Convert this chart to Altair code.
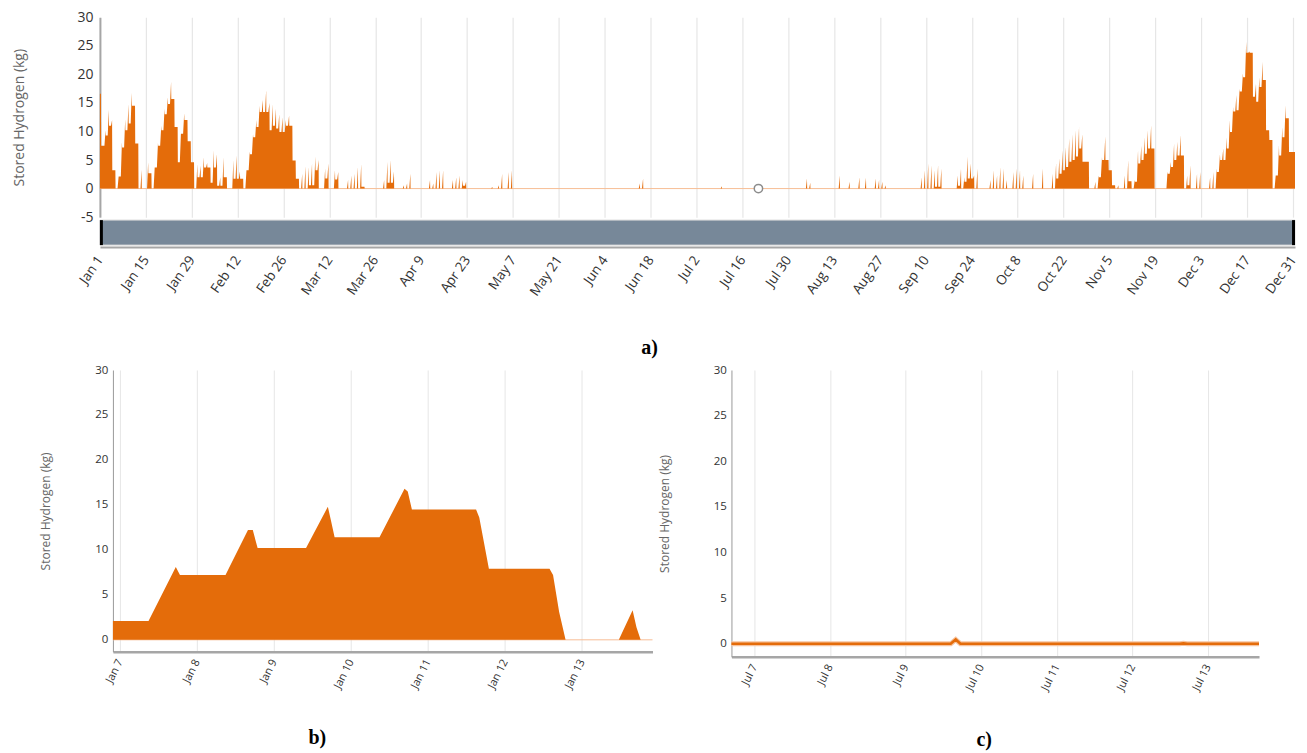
import json
import altair as alt
import pandas as pd

alt.data_transformers.disable_max_rows()

FONT = "Open Sans"
ORANGE = "#E46C0A"
ZERO_LINE = "#F7BE96"
GRID = "#E6E6E6"
AXIS_LINE = "#A6A6A6"
LABEL = "#333333"
TITLE = "#666666"

# ---------------- panel a) : one year, day 0 = Jan 1 ----------------
year_tick_days = [0, 14, 28, 42, 56, 70, 84, 98, 112, 126, 140, 154, 168, 182,
                  196, 210, 224, 238, 252, 266, 280, 294, 308, 322, 336, 350, 364]
year_tick_labels = ["Jan 1", "Jan 15", "Jan 29", "Feb 12", "Feb 26", "Mar 12", "Mar 26",
                    "Apr 9", "Apr 23", "May 7", "May 21", "Jun 4", "Jun 18", "Jul 2",
                    "Jul 16", "Jul 30", "Aug 13", "Aug 27", "Sep 10", "Sep 24", "Oct 8",
                    "Oct 22", "Nov 5", "Nov 19", "Dec 3", "Dec 17", "Dec 31"]
year_kg_ticks = [-5, 0, 5, 10, 15, 20, 25, 30]
year_end_day = 364.6
jan1_midnight_kg = 16.6
hover_day = 200.9

# afternoon peak of each day (kg), one row = two weeks
daily_peak_kg = [
    7.5, 10.2, 13.8, 12.0, 3.2, 2.1, 8.1, 12.2, 14.8, 16.8, 14.5, 7.9, 3.3, 0,
    4.6, 2.7, 3.7, 8.0, 11.0, 14.0, 16.0, 18.7, 15.7, 10.8, 9.6, 13.2, 12.0, 8.3,
    4.6, 4.3, 4.0, 5.5, 4.5, 3.7, 6.7, 6.0, 2.0, 5.5, 2.0, 0, 5.0, 5.8,
    3.0, 1.7, 3.2, 6.5, 9.5, 12.0, 14.5, 15.5, 17.2, 15.0, 14.8, 14.0, 13.0, 12.5,
    12.0, 12.8, 11.0, 4.9, 1.7, 2.6, 3.9, 3.8, 4.4, 5.6, 5.0, 0, 3.5, 4.4,
    0, 3.2, 2.9, 0, 0, 1.5, 2.3, 2.6, 3.8, 4.3, 0.3, 0, 0, 0,
    0, 0, 1.5, 4.7, 5.0, 3.0, 0, 0, 0.6, 0.9, 2.6, 0, 0, 0,
    0, 0, 1.5, 0.9, 2.9, 3.2, 3.2, 0, 0, 1.5, 2.0, 2.3, 1.5, 1.2,
    0, 0, 0, 0, 0, 0, 0, 0.3, 0, 0.6, 2.6, 0, 2.9, 3.2,
    0, 0, 0, 0, 0, 0, 0, 0, 0, 0, 0, 0, 0, 0,
    0, 0, 0, 0, 0, 0, 0, 0, 0, 0, 0, 0, 0, 0,
    0, 0, 0, 0, 0, 0, 0, 0, 0, 0, 0.9, 1.75, 0, 0,
    0, 0, 0, 0, 0, 0, 0, 0, 0, 0, 0, 0, 0, 0,
    0, 0, 0, 0, 0, 0, 0, 0.4, 0, 0, 0, 0, 0, 0,
    0, 0, 0, 0, 0, 0, 0, 0, 0, 0, 0, 0, 0, 0,
    0, 0, 0, 0, 0, 1.75, 1.0, 0, 0, 0, 0, 0, 0, 0,
    0, 2.3, 0, 0, 1.2, 0, 0, 2.0, 0, 1.9, 0, 0, 1.75, 1.5,
    1.2, 0.6, 0, 0, 0, 0, 0, 0, 0, 0, 0, 0, 2.0, 3.2,
    4.4, 4.1, 3.2, 4.1, 3.5, 0, 0, 0, 0, 2.3, 3.5, 2.0, 5.6, 4.4,
    2.3, 3.5, 0, 0, 0, 1.5, 3.2, 2.3, 3.8, 3.5, 1.5, 0, 2.9, 3.5,
    3.2, 2.3, 0, 0, 2.6, 0, 0, 3.5, 0, 0, 2.6, 4.5, 5.3, 6.7,
    7.3, 8.8, 9.5, 10.2, 10.8, 9.5, 4.7, 4.7, 0, 1.2, 2.3, 5.5, 9.1, 5.0,
    3.2, 0.6, 0.6, 0, 2.3, 5.0, 1.3, 1.5, 6.7, 7.5, 9.0, 10.2, 11.1, 7.0,
    0, 0, 0, 3.0, 4.7, 7.9, 8.2, 9.4, 5.8, 2.3, 4.1, 0, 2.6, 2.9,
    0, 0, 2.0, 2.9, 3.5, 6.0, 7.0, 9.0, 12.0, 14.3, 16.4, 17.5, 20.2, 25.7,
    24.0, 23.8, 18.4, 19.5, 22.2, 19.0, 10.2, 8.5, 2.3, 7.6, 10.8, 14.6, 12.3, 6.4,
    6.4,
]
# level kept after the evening drop (kg)
daily_base_kg = [
    7.5, 9.3, 11.0, 3.2, 0, 2.1, 7.2, 10.2, 11.4, 14.5, 7.9, 0, 0, 0,
    2.7, 0, 3.7, 7.5, 10.2, 13.0, 14.8, 15.7, 10.8, 4.6, 9.6, 12.0, 8.3, 4.6,
    0, 2.0, 2.0, 3.7, 3.7, 1.0, 3.7, 0.5, 0.5, 2.0, 0, 0, 1.7, 1.7,
    1.7, 0, 3.2, 6.0, 9.0, 10.8, 13.4, 13.4, 13.4, 10.2, 11.0, 10.5, 9.9, 9.9,
    11.0, 11.0, 4.9, 1.7, 0, 0, 0, 0.6, 0.6, 3.2, 0, 0, 1.75, 0,
    0, 1.6, 0, 0, 0, 0, 0, 0, 0, 0.3, 0, 0, 0, 0,
    0, 0, 0, 1.0, 1.0, 0, 0, 0, 0, 0, 0, 0, 0, 0,
    0, 0, 0, 0, 0, 0, 0, 0, 0, 0, 0, 0, 0.5, 0,
    0, 0, 0, 0, 0, 0, 0, 0, 0, 0, 0, 0, 0, 0,
    0, 0, 0, 0, 0, 0, 0, 0, 0, 0, 0, 0, 0, 0,
    0, 0, 0, 0, 0, 0, 0, 0, 0, 0, 0, 0, 0, 0,
    0, 0, 0, 0, 0, 0, 0, 0, 0, 0, 0, 0, 0, 0,
    0, 0, 0, 0, 0, 0, 0, 0, 0, 0, 0, 0, 0, 0,
    0, 0, 0, 0, 0, 0, 0, 0, 0, 0, 0, 0, 0, 0,
    0, 0, 0, 0, 0, 0, 0, 0, 0, 0, 0, 0, 0, 0,
    0, 0, 0, 0, 0, 0, 0, 0, 0, 0, 0, 0, 0, 0,
    0, 0, 0, 0, 0, 0, 0, 0, 0, 0, 0, 0, 0, 0,
    0, 0, 0, 0, 0, 0, 0, 0, 0, 0, 0, 0, 0, 0,
    0, 0, 0.3, 0.3, 0, 0, 0, 0, 0, 0.5, 0, 1.2, 1.75, 1.75,
    0, 0, 0, 0, 0, 0, 0, 0, 0, 0, 0, 0, 0, 0,
    0, 0, 0, 0, 0, 0, 0, 0, 0, 0, 0, 1.75, 2.6, 3.2,
    3.8, 4.7, 5.0, 5.6, 7.0, 4.7, 4.7, 0, 0, 0, 2.0, 5.0, 5.0, 3.2,
    0.6, 0, 0, 0, 0, 1.3, 0, 1.2, 4.4, 5.0, 6.1, 7.0, 7.0, 0,
    0, 0, 0, 2.6, 3.8, 5.0, 5.8, 5.8, 0, 0.6, 0, 0, 0, 0,
    0, 0, 0, 0, 2.9, 5.0, 5.0, 7.0, 9.9, 13.5, 13.7, 17.0, 19.5, 23.8,
    23.8, 16.1, 15.2, 17.8, 19.0, 10.2, 8.5, 0, 2.3, 5.8, 9.0, 12.3, 6.4, 6.4,
    6.4,
]
# daily cycle hours as seen in panel b (charging starts, peak, end of drop)
charge_start_h, charge_peak_h, drop_end_h = 9.0, 17.0, 18.5

# ---------------- panel b) : Jan 7 - Jan 13, hours from Jan 7 00:00 ----------------
b_hours = [-2.2, 8.9, 17.4, 18.7, 32.9, 39.9, 41.4, 42.9, 58.0, 64.8, 65.8, 66.9,
           80.9, 88.7, 89.7, 91.0, 111.0, 112.0, 115.0, 133.9, 135.0, 136.9, 138.9,
           155.5, 159.8, 161.0, 162.3, 166.0]
b_kg = [2.1, 2.1, 8.1, 7.2, 7.2, 12.2, 12.2, 10.2, 10.2, 14.8, 13.2, 11.4,
        11.4, 16.8, 16.5, 14.5, 14.5, 13.6, 7.9, 7.9, 7.2, 3.1, 0.0,
        0.0, 3.3, 1.4, 0.0, 0.0]
b_tick_hours = [0, 24, 48, 72, 96, 120, 144]
b_tick_labels = ["Jan 7", "Jan 8", "Jan 9", "Jan 10", "Jan 11", "Jan 12", "Jan 13"]

# ---------------- panel c) : Jul 7 - Jul 13, hours from Jul 7 00:00 ----------------
c_hours = [-7.3, 62.3, 63.9, 65.4, 135.0, 136.2, 137.4, 160.2]
c_kg = [0.0, 0.0, 0.47, 0.0, 0.0, 0.05, 0.0, 0.0]
c_tick_hours = [0, 24, 48, 72, 96, 120, 144]
c_tick_labels = ["Jul 7", "Jul 8", "Jul 9", "Jul 10", "Jul 11", "Jul 12", "Jul 13"]
week_kg_ticks = [0, 5, 10, 15, 20, 25, 30]

# ---------------- build panel a) series ----------------
a_day = [0.0, 0.3, 0.45]
a_kg = [jan1_midnight_kg, jan1_midnight_kg, daily_peak_kg[0]]
prev = daily_peak_kg[0]
for d, (p, b) in enumerate(zip(daily_peak_kg, daily_base_kg)):
    a_day += [d + charge_start_h / 24, d + charge_peak_h / 24, d + drop_end_h / 24]
    a_kg += [prev, p, b]
    prev = b
a_df = pd.DataFrame({"day": a_day, "kg": a_kg})
one = pd.DataFrame({"k": [0]})

# layout offsets (px) inside each panel group
TOP_X0 = 90
TOP_W = 1196
BL_X0 = 103
BL_W = 540
BR_X0 = 74
BR_W = 528

HYPHEN_LABEL = "datum.value < 0 ? '-' + abs(datum.value) : '' + datum.value"


def label_expr(labels, step):
    return json.dumps(labels) + "[round(datum.value / %d)]" % step


xa = alt.Scale(domain=[0, year_end_day], range=[TOP_X0, TOP_X0 + TOP_W], nice=False, zero=False)
ya = alt.Scale(domain=[-5, 30], nice=False, zero=False)

x_axis_a = alt.Axis(values=year_tick_days, labelExpr=label_expr(year_tick_labels, 14),
                    title=None, grid=True, gridColor=GRID, gridWidth=1.2, ticks=False,
                    domain=True, domainColor=AXIS_LINE, domainWidth=2, offset=30,
                    labelAngle=-55, labelAlign="right", labelBaseline="middle",
                    labelFontSize=13.5, labelColor=LABEL, labelPadding=10,
                    labelFlush=False, labelOverlap=False)
y_axis_a = alt.Axis(values=year_kg_ticks, title="Stored Hydrogen (kg)",
                    labelExpr=HYPHEN_LABEL, labelOverlap=False, labelFlush=False,
                    labelBound=False, grid=False, ticks=False, domainColor=AXIS_LINE,
                    domainWidth=2, offset=-TOP_X0, labelFontSize=14, labelColor=LABEL,
                    labelPadding=7, titleFontSize=14, titleColor=TITLE,
                    titleFontWeight="normal", titlePadding=50)


def xd(v):
    return alt.X(datum=v, type="quantitative", scale=xa, axis=x_axis_a)


def yd(v):
    return alt.Y(datum=v, type="quantitative", scale=ya, axis=y_axis_a)


zero_a = alt.Chart(one).mark_rule(color=ZERO_LINE, strokeWidth=1).encode(
    x=xd(0), x2=alt.datum(year_end_day), y=yd(0))
area_a = alt.Chart(a_df).mark_area(color=ORANGE, clip=True, interpolate="linear").encode(
    x=alt.X("day:Q", scale=xa, axis=x_axis_a),
    y=alt.Y("kg:Q", scale=ya, axis=y_axis_a),
    y2=alt.datum(0),
)
nav = alt.Chart(one).mark_rect(fill="#778899", stroke="#D8D8D8", strokeWidth=1).encode(
    x=xd(0), x2=alt.datum(year_end_day), y=alt.value(203), y2=alt.value(228))
handle_l = alt.Chart(one).mark_rect(fill="#000000").encode(
    x=xd(0), x2=alt.datum(0.9), y=alt.value(203), y2=alt.value(228))
handle_r = alt.Chart(one).mark_rect(fill="#000000").encode(
    x=xd(year_end_day - 0.9), x2=alt.datum(year_end_day), y=alt.value(203), y2=alt.value(228))
hover = alt.Chart(one).mark_point(shape="circle", size=70, filled=True, fill="white",
                                  stroke="#8C8C8C", strokeWidth=1.5, opacity=1).encode(
    x=xd(hover_day), y=yd(0))

panel_a = alt.layer(zero_a, area_a, nav, handle_l, handle_r, hover).properties(
    width=TOP_X0 + TOP_W, height=200,
    title=alt.TitleParams("a)", orient="bottom", anchor="middle", frame="group",
                          font="Liberation Serif", fontSize=20, fontWeight="bold",
                          color="#000000", offset=40, dx=-3),
)


def small_panel(df, x0, w, h, ymin, ticks, labels, panel_title, tdx, kind):
    xs = alt.Scale(domain=[df["h"].iloc[0], df["h"].iloc[-1]], range=[x0, x0 + w],
                   nice=False, zero=False)
    ys = alt.Scale(domain=[ymin, 30], nice=False, zero=False)
    xax = alt.Axis(values=ticks, labelExpr=label_expr(labels, 24), title=None,
                   grid=True, gridColor=GRID, gridWidth=1, ticks=False,
                   domainColor=AXIS_LINE, domainWidth=2.5, labelAngle=-63,
                   labelAlign="right", labelBaseline="middle", labelFontSize=11,
                   labelColor=LABEL, labelPadding=8, labelFlush=False, labelOverlap=False)
    yax = alt.Axis(values=week_kg_ticks, title="Stored Hydrogen (kg)",
                   labelOverlap=False, labelFlush=False,
                   grid=False, ticks=False, domainColor="#999999", domainWidth=1,
                   offset=-x0, labelFontSize=11.5, labelColor=LABEL, labelPadding=5,
                   titleFontSize=12, titleColor=TITLE, titleFontWeight="normal",
                   titlePadding=42)
    base = alt.Chart(df).encode(x=alt.X("h:Q", scale=xs, axis=xax),
                                y=alt.Y("kg:Q", scale=ys, axis=yax))
    if kind == "area":
        zero = alt.Chart(one).mark_rule(color=ZERO_LINE, strokeWidth=1).encode(
            x=alt.X(datum=df["h"].iloc[0], type="quantitative", scale=xs, axis=xax),
            x2=alt.datum(df["h"].iloc[-1]),
            y=alt.Y(datum=0, type="quantitative", scale=ys, axis=yax))
        layers = [zero, base.mark_area(color=ORANGE).encode(y2=alt.datum(0))]
    else:
        layers = [base.mark_line(color="#F6C4A0", strokeWidth=5),
                  base.mark_line(color=ORANGE, strokeWidth=2.6)]
    return alt.layer(*layers).properties(
        width=x0 + w, height=h,
        title=alt.TitleParams(panel_title, orient="bottom", anchor="middle", frame="group",
                              font="Liberation Serif", fontSize=20, fontWeight="bold",
                              color="#000000", offset=38, dx=tdx),
    )


b_df = pd.DataFrame({"h": b_hours, "kg": b_kg})
c_df = pd.DataFrame({"h": c_hours, "kg": c_kg})
panel_b = small_panel(b_df, BL_X0, BL_W, 282, -1.33, b_tick_hours, b_tick_labels, "b)", -14, "area")
panel_c = small_panel(c_df, BR_X0, BR_W, 287, -1.42, c_tick_hours, c_tick_labels, "c)", 26, "line")

bottom = alt.hconcat(panel_b, panel_c, spacing=4)
chart = alt.vconcat(panel_a, bottom, spacing=6).properties(
    padding={"left": 2, "top": 2, "right": 0, "bottom": 0}
).configure_view(stroke=None).configure_axis(
    labelFont=FONT, titleFont=FONT, labelOverlap=False)

chart.save("out.html", embed_options={"renderer": "svg", "actions": False})
